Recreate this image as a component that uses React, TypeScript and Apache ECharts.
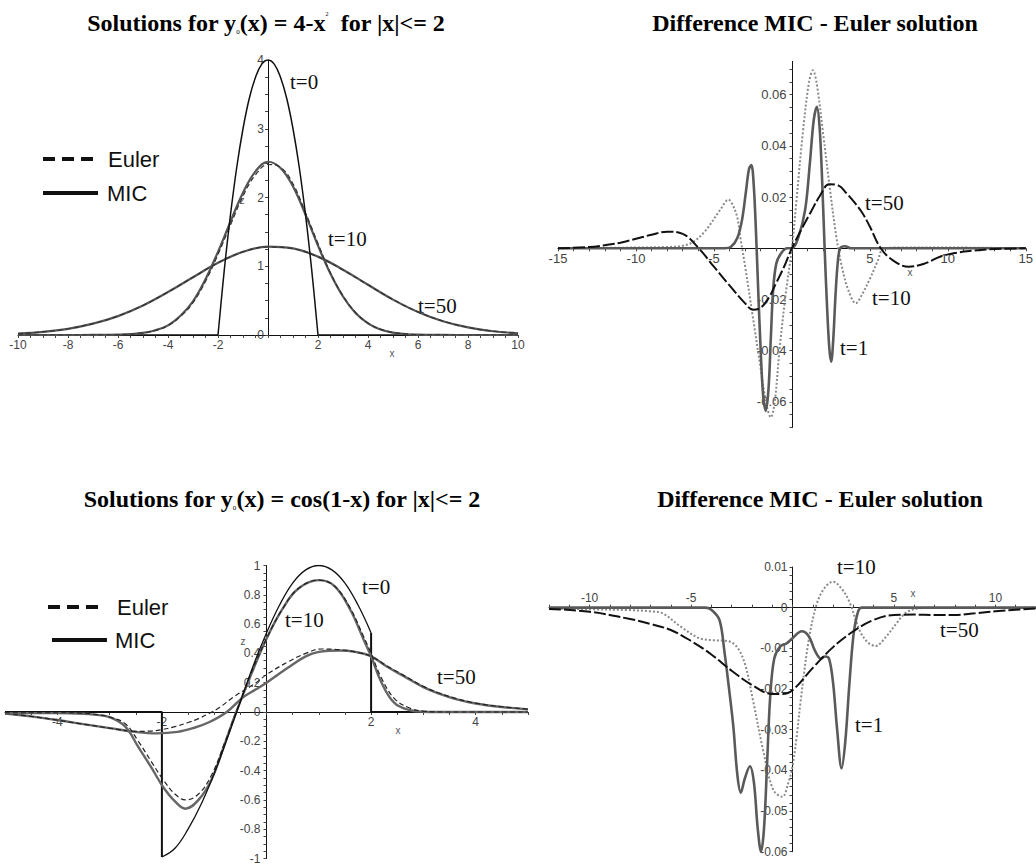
import React, { useEffect, useRef } from "react";
import * as echarts from "echarts";

// ---------- Panel 1: y0(x) = 4 - x^2 ----------
const p1XLabels = [-10, -8, -6, -4, -2, 2, 4, 6, 8, 10];
const p1YLabels = [0, 1, 2, 3, 4];
const p1T0Curve = [[-2, 0], [-1.75, 0.94], [-1.5, 1.75], [-1.25, 2.44], [-1, 3], [-0.75, 3.44], [-0.5, 3.75], [-0.25, 3.94], [0, 4], [0.25, 3.94], [0.5, 3.75], [0.75, 3.44], [1, 3], [1.25, 2.44], [1.5, 1.75], [1.75, 0.94], [2, 0]];
const p1T0Left = [[-10, 0], [-2, 0]];
const p1T0Right = [[2, 0], [10, 0]];
const p1MicT10 = [[-10, 0], [-8, 0], [-7, 0.001], [-6, 0.005], [-5.5, 0.012], [-5, 0.03], [-4.5, 0.07], [-4, 0.14], [-3.5, 0.28], [-3, 0.49], [-2.5, 0.81], [-2, 1.21], [-1.5, 1.65], [-1, 2.07], [-0.5, 2.38], [0, 2.52], [0.5, 2.43], [1, 2.16], [1.5, 1.75], [2, 1.3], [2.5, 0.89], [3, 0.56], [3.5, 0.32], [4, 0.17], [4.5, 0.08], [5, 0.035], [5.5, 0.014], [6, 0.005], [7, 0.001], [8, 0], [10, 0]];
const p1EulerT10 = [[-10, 0], [-8, 0], [-7, 0.001], [-6, 0.005], [-5, 0.03], [-4.5, 0.068], [-4, 0.135], [-3.5, 0.27], [-3, 0.47], [-2.5, 0.78], [-2, 1.17], [-1.5, 1.6], [-1, 2.02], [-0.5, 2.33], [0, 2.48], [0.5, 2.44], [1, 2.2], [1.5, 1.78], [2, 1.33], [2.5, 0.9], [3, 0.57], [3.5, 0.33], [4, 0.175], [4.5, 0.085], [5, 0.037], [6, 0.006], [7, 0.001], [8, 0], [10, 0]];
const p1MicT50 = [[-10, 0.02], [-9, 0.045], [-8, 0.09], [-7, 0.165], [-6, 0.275], [-5, 0.43], [-4, 0.625], [-3, 0.84], [-2, 1.05], [-1, 1.21], [0, 1.285], [1, 1.26], [2, 1.14], [3, 0.95], [4, 0.73], [5, 0.515], [6, 0.335], [7, 0.2], [8, 0.11], [9, 0.055], [10, 0.025]];
const p1EulerT50 = [[-10, 0.021], [-9, 0.046], [-8, 0.091], [-7, 0.166], [-6, 0.276], [-5, 0.43], [-4, 0.625], [-3, 0.84], [-2, 1.05], [-1, 1.21], [0, 1.28], [1, 1.255], [2, 1.135], [3, 0.945], [4, 0.73], [5, 0.517], [6, 0.337], [7, 0.202], [8, 0.112], [9, 0.056], [10, 0.026]];

// ---------- Panel 2: difference MIC - Euler (4 - x^2) ----------
const p2XLabels = [-15, -10, -5, 5, 10, 15];
const p2YLabels = [-0.06, -0.04, -0.02, 0.02, 0.04, 0.06];
const p2T1 = [[-15, 0], [-4.3, 0], [-3.9, 0.0006], [-3.5, 0.004], [-3.2, 0.011], [-2.95, 0.022], [-2.75, 0.031], [-2.6, 0.0325], [-2.45, 0.025], [-2.3, 0.006], [-2.15, -0.018], [-2.0, -0.04], [-1.85, -0.057], [-1.68, -0.0635], [-1.5, -0.055], [-1.35, -0.035], [-1.2, -0.016], [-1.0, -0.006], [-0.7, -0.002], [-0.3, 0], [0, 0], [0.4, 0.004], [0.85, 0.015], [1.15, 0.033], [1.4, 0.05], [1.6, 0.0553], [1.78, 0.047], [1.95, 0.025], [2.1, 0.0], [2.25, -0.022], [2.4, -0.039], [2.52, -0.0443], [2.65, -0.036], [2.8, -0.018], [2.95, -0.005], [3.1, 0], [3.4, 0.0008], [3.8, 0], [15, 0]];
const p2T10 = [[-15, 0], [-10, 0.0003], [-8, 0.0005], [-7, 0.001], [-6.3, 0.0026], [-5.5, 0.0072], [-4.6, 0.015], [-4.07, 0.019], [-3.8, 0.017], [-3.5, 0.012], [-3.3, 0.004], [-3.0, -0.007], [-2.5, -0.027], [-2.0, -0.047], [-1.6, -0.062], [-1.35, -0.066], [-1.1, -0.06], [-0.8, -0.04], [-0.4, -0.018], [0, 0], [0.3, 0.019], [0.7, 0.045], [1.1, 0.065], [1.35, 0.0695], [1.6, 0.064], [2.0, 0.045], [2.4, 0.025], [2.85, 0.0045], [3.2, -0.007], [3.6, -0.016], [4.1, -0.0215], [4.5, -0.018], [5.0, -0.012], [5.5, -0.005], [5.9, 0], [7, 0.0003], [10, 0.0003], [15, 0]];
const p2T50 = [[-15, 0], [-13, 0.0005], [-12, 0.0012], [-11, 0.0022], [-10, 0.0037], [-9, 0.0053], [-8, 0.0065], [-7, 0.0056], [-6, 0.0002], [-5, -0.0072], [-4, -0.0145], [-3, -0.0215], [-2.5, -0.024], [-2, -0.0232], [-1.5, -0.0195], [-1, -0.0135], [-0.5, -0.0072], [0, 0], [0.7, 0.0084], [1.2, 0.014], [1.8, 0.0205], [2.4, 0.025], [3, 0.0245], [3.5, 0.0215], [4, 0.018], [4.5, 0.014], [5, 0.0085], [5.7, 0], [6.5, -0.0048], [7.5, -0.0072], [8.5, -0.006], [9.5, -0.0033], [10.5, -0.0018], [11.5, -0.001], [13, -0.0003], [15, 0]];

// ---------- Panel 3: y0(x) = cos(1 - x) ----------
const p3XLabels = [-4, -2, 2, 4];
const p3YLabels = [-1, -0.8, -0.6, -0.4, -0.2, 0, 0.2, 0.4, 0.6, 0.8, 1];
const p3T0Curve = [[-2, -0.99], [-1.75, -0.93], [-1.5, -0.8], [-1.25, -0.63], [-1, -0.42], [-0.75, -0.18], [-0.5, 0.07], [-0.25, 0.32], [0, 0.54], [0.25, 0.73], [0.5, 0.88], [0.75, 0.97], [1, 1], [1.25, 0.97], [1.5, 0.88], [1.75, 0.73], [2, 0.54]];
const p3T0Left = [[-5, 0], [-2, 0], [-2, -0.99]];
const p3T0Right = [[2, 0.54], [2, 0], [5, 0]];
const p3MicT10 = [[-5, -0.008], [-4, -0.008], [-3.5, -0.012], [-3.3, -0.018], [-3.0, -0.035], [-2.7, -0.1], [-2.45, -0.24], [-2.2, -0.38], [-1.98, -0.51], [-1.75, -0.61], [-1.55, -0.66], [-1.3, -0.6], [-1.05, -0.46], [-0.8, -0.22], [-0.6, -0.02], [-0.3, 0.25], [0, 0.5], [0.3, 0.7], [0.6, 0.84], [1.0, 0.9], [1.3, 0.86], [1.6, 0.7], [1.85, 0.5], [2.0, 0.38], [2.2, 0.2], [2.45, 0.06], [2.75, 0.012], [3.0, 0.002], [3.5, 0], [5, 0]];
const p3EulerT10 = [[-5, -0.005], [-4, -0.005], [-3.5, -0.008], [-3.2, -0.02], [-3, -0.035], [-2.7, -0.08], [-2.45, -0.2], [-2.2, -0.34], [-1.98, -0.46], [-1.75, -0.56], [-1.55, -0.6], [-1.3, -0.56], [-1.05, -0.43], [-0.8, -0.21], [-0.6, -0.02], [-0.3, 0.26], [0, 0.5], [0.3, 0.7], [0.6, 0.84], [1.0, 0.9], [1.3, 0.86], [1.6, 0.71], [1.85, 0.52], [2.0, 0.4], [2.2, 0.23], [2.45, 0.09], [2.75, 0.025], [3.0, 0.006], [3.5, 0], [5, 0]];
const p3MicT50 = [[-5, -0.01], [-4.5, -0.03], [-4, -0.055], [-3.5, -0.083], [-3, -0.11], [-2.5, -0.136], [-2.1, -0.146], [-1.7, -0.136], [-1.4, -0.11], [-1.1, -0.07], [-0.76, 0], [-0.45, 0.1], [-0.2, 0.155], [0, 0.2], [0.4, 0.3], [0.75, 0.38], [1.0, 0.41], [1.4, 0.42], [1.7, 0.41], [2, 0.38], [2.3, 0.31], [2.65, 0.24], [3, 0.17], [3.3, 0.125], [3.6, 0.09], [4, 0.058], [4.5, 0.034], [5, 0.018]];
const p3EulerT50 = [[-5, -0.01], [-4.5, -0.03], [-4, -0.055], [-3.5, -0.083], [-3, -0.11], [-2.5, -0.132], [-2.2, -0.13], [-2.0, -0.12], [-1.75, -0.1], [-1.5, -0.072], [-1.3, -0.045], [-1.1, -0.01], [-0.9, 0.03], [-0.64, 0.1], [-0.2, 0.2], [0, 0.255], [0.4, 0.34], [0.75, 0.4], [1.05, 0.43], [1.4, 0.425], [1.7, 0.41], [2, 0.38], [2.3, 0.315], [2.65, 0.245], [3, 0.175], [3.3, 0.13], [3.6, 0.095], [4, 0.06], [4.5, 0.036], [5, 0.02]];

// ---------- Panel 4: difference MIC - Euler (cos) ----------
const p4XLabels = [-10, -5, 5, 10];
const p4YLabels = [-0.06, -0.05, -0.04, -0.03, -0.02, -0.01, 0, 0.01];
const p4T1 = [[-12, 0], [-4.3, 0], [-4.0, -0.0005], [-3.6, -0.003], [-3.35, -0.011], [-3.15, -0.019], [-2.92, -0.029], [-2.72, -0.041], [-2.55, -0.0455], [-2.35, -0.042], [-2.1, -0.039], [-1.9, -0.043], [-1.72, -0.054], [-1.55, -0.06], [-1.4, -0.054], [-1.25, -0.038], [-1.1, -0.022], [-0.9, -0.0125], [-0.6, -0.0095], [-0.3, -0.0088], [0, -0.0075], [0.45, -0.0058], [0.8, -0.007], [1.1, -0.0105], [1.4, -0.0125], [1.6, -0.012], [1.8, -0.0125], [2.0, -0.0185], [2.2, -0.03], [2.42, -0.0395], [2.6, -0.033], [2.8, -0.019], [3.0, -0.007], [3.2, -0.0015], [3.4, 0], [12, 0]];
const p4T10 = [[-12, -0.0002], [-10, -0.0004], [-8, -0.0006], [-7, -0.0009], [-6.4, -0.0014], [-5.5, -0.0047], [-4.6, -0.0075], [-3.9, -0.008], [-3.2, -0.0082], [-2.75, -0.0096], [-2.35, -0.0137], [-1.95, -0.0227], [-1.45, -0.035], [-0.95, -0.0448], [-0.5, -0.0465], [-0.2, -0.043], [0, -0.039], [0.2, -0.032], [0.4, -0.023], [0.8, -0.008], [1.2, 0.001], [1.6, 0.005], [2.0, 0.0064], [2.4, 0.0048], [2.8, 0.0015], [3.3, -0.0055], [3.7, -0.0085], [4.1, -0.0094], [4.6, -0.0072], [5.1, -0.004], [5.6, -0.0012], [6.2, -0.0002], [7, 0], [12, 0]];
const p4T50 = [[-12, -0.0003], [-10, -0.001], [-8, -0.0028], [-7, -0.004], [-6, -0.0055], [-5, -0.0082], [-4, -0.0115], [-3, -0.0155], [-2, -0.019], [-1, -0.0212], [-0.5, -0.0212], [0, -0.0203], [1, -0.0148], [2, -0.0097], [3, -0.0058], [4, -0.003], [5, -0.0018], [6, -0.0017], [7, -0.0018], [8, -0.0018], [9, -0.0014], [10, -0.0009], [11, -0.0005], [12, -0.0002]];

const SERIF = '"Liberation Serif", "Times New Roman", serif';
const SANS = '"Liberation Sans", Arial, sans-serif';

const grids = [
  { left: 18, top: 60, width: 500, height: 275 },
  { left: 558, top: 61.4, width: 469, height: 366.1 },
  { left: 5, top: 565.5, width: 523, height: 293 },
  { left: 549, top: 567, width: 487, height: 284.7 },
];

function steps(a: number, b: number, s: number) {
  const out: number[] = [];
  const n = Math.round((b - a) / s);
  for (let i = 0; i <= n; i++) out.push(+(a + i * s).toFixed(6));
  return out;
}

// axes drawn through the origin: offset from the grid edge to the zero position
function xAxis(gi: number, min: number, max: number, ymin: number, ymax: number, labels: number[], minor: number, fontSize: number, top = false) {
  const h = grids[gi].height;
  const fromBottom = ((0 - ymin) / (ymax - ymin)) * h;
  const offset = top ? -(h - fromBottom) : -fromBottom;
  return {
    type: "value", gridIndex: gi, min, max, position: top ? "top" : "bottom", offset,
    axisLine: { onZero: false, lineStyle: { color: "#111", width: 1 } },
    axisTick: { show: true, length: 3, customValues: steps(min, max, minor), lineStyle: { color: "#444" } },
    axisLabel: { customValues: labels, margin: 4, fontSize, color: "#444", fontFamily: SANS },
    splitLine: { show: false },
  };
}
function yAxis(gi: number, min: number, max: number, xmin: number, xmax: number, labels: number[], minor: number, fontSize: number, margin: number) {
  const w = grids[gi].width;
  const offset = -((0 - xmin) / (xmax - xmin)) * w;
  return {
    type: "value", gridIndex: gi, min, max, position: "left", offset,
    axisLine: { onZero: false, lineStyle: { color: "#111", width: 1 } },
    axisTick: { show: true, length: 3, customValues: steps(min, max, minor), lineStyle: { color: "#444" } },
    axisLabel: { customValues: labels, margin, fontSize, color: "#444", fontFamily: SANS },
    splitLine: { show: false },
  };
}
function line(data: number[][], gi: number, color: string, width: number, type: any = "solid", smooth: any = 0.4, z = 2) {
  return {
    type: "line", data, xAxisIndex: gi, yAxisIndex: gi, showSymbol: false, symbol: "none",
    smooth, silent: true, z, lineStyle: { color, width, type }, animation: false,
  };
}
function txt(x: number, y: number, text: string, font: string, fill = "#111", align = "left") {
  return { type: "text", x, y, silent: true, style: { text, font, fill, align, textAlign: align, verticalAlign: "middle", textVerticalAlign: "middle" } };
}
function seg(x1: number, y1: number, x2: number, y2: number, dash: any = null) {
  return { type: "line", silent: true, shape: { x1, y1, x2, y2 }, style: { stroke: "#111", lineWidth: 4, lineDash: dash } };
}
function title(x: number, y: number, text: string) {
  return {
    type: "text", x, y, silent: true,
    style: {
      text, font: `bold 24px ${SERIF}`, fill: "#000", align: "center", textAlign: "center",
      verticalAlign: "middle", textVerticalAlign: "middle",
      rich: {
        s: { fontSize: 7, fontFamily: SERIF, verticalAlign: "bottom", fill: "#000" },
        p: { fontSize: 6, fontFamily: SERIF, verticalAlign: "top", fill: "#000" },
      },
    },
  };
}

export default function App() {
  const ref = useRef<HTMLDivElement>(null);
  useEffect(() => {
    if (!ref.current) return;
    const chart = echarts.init(ref.current, null, { renderer: "svg" });
    const tFont = `21px ${SERIF}`;
    const lFont = `22px ${SANS}`;
    const sFont = `10px ${SANS}`;
    chart.setOption({
      animation: false,
      backgroundColor: "#fff",
      grid: grids,
      xAxis: [
        xAxis(0, -10, 10, 0, 4, p1XLabels, 0.5, 12),
        xAxis(1, -15, 15, -0.07, 0.073, p2XLabels, 1, 13),
        xAxis(2, -5, 5, -1, 1, p3XLabels, 0.5, 12),
        xAxis(3, -12, 12, -0.06, 0.01, p4XLabels, 1, 12, true),
      ],
      yAxis: [
        yAxis(0, 0, 4, -10, 10, p1YLabels, 0.25, 12, 4),
        yAxis(1, -0.07, 0.073, -15, 15, p2YLabels, 0.005, 13, 6),
        yAxis(2, -1, 1, -5, 5, p3YLabels, 0.05, 12, 6),
        yAxis(3, -0.06, 0.01, -12, 12, p4YLabels, 0.002, 12, 5),
      ],
      series: [
        line(p1T0Left, 0, "#111", 1.5, "solid", false),
        line(p1T0Right, 0, "#111", 1.5, "solid", false),
        line(p1T0Curve, 0, "#111", 1.5, "solid", 0.4, 4),
        line(p1MicT50, 0, "#555", 2.2),
        line(p1EulerT50, 0, "#333", 1.2, [5, 3]),
        line(p1MicT10, 0, "#555", 2.2),
        line(p1EulerT10, 0, "#333", 1.2, [5, 3]),

        line(p2T10, 1, "#8a8a8a", 2, "dotted", 0.35),
        line(p2T1, 1, "#5a5a5a", 2.6, "solid", 0.35, 3),
        line(p2T50, 1, "#111", 2, [12, 3], 0.4, 4),

        line(p3T0Left, 2, "#111", 2, "solid", false),
        line(p3T0Right, 2, "#111", 2, "solid", false),
        line(p3T0Curve, 2, "#111", 1.3, "solid", 0.4, 4),
        line(p3MicT50, 2, "#666", 2.4),
        line(p3EulerT50, 2, "#222", 1.2, [5, 3]),
        line(p3MicT10, 2, "#666", 2.4),
        line(p3EulerT10, 2, "#222", 1.2, [5, 3]),

        line(p4T10, 3, "#8a8a8a", 2, "dotted", 0.35),
        line(p4T1, 3, "#5a5a5a", 2.6, "solid", 0.35, 3),
        line(p4T50, 3, "#111", 2, [12, 3], 0.4, 4),
      ],
      graphic: [
        title(266, 23, "Solutions for y{s|0}(x) = 4-x{p|2}  for |x|<= 2"),
        title(815, 23, "Difference MIC - Euler solution"),
        title(282, 499, "Solutions for y{s|0}(x) = cos(1-x) for |x|<= 2"),
        title(820, 499, "Difference MIC - Euler solution"),

        seg(43, 159, 93, 159, [12, 7]),
        txt(108, 159, "Euler", lFont),
        seg(43, 193, 98, 193),
        txt(107, 193, "MIC", lFont),
        seg(48, 607, 100, 607, [12, 7]),
        txt(117, 607, "Euler", lFont),
        seg(52, 640, 107, 640),
        txt(115, 640, "MIC", lFont),

        txt(290, 82, "t=0", tFont),
        txt(328, 239, "t=10", tFont),
        txt(418, 306, "t=50", tFont),
        txt(865, 203, "t=50", tFont),
        txt(872, 298, "t=10", tFont),
        txt(840, 348, "t=1", tFont),
        txt(362, 587, "t=0", tFont),
        txt(285, 620, "t=10", tFont),
        txt(437, 677, "t=50", tFont),
        txt(837, 567, "t=10", tFont),
        txt(940, 630, "t=50", tFont),
        txt(855, 725, "t=1", tFont),

        txt(392, 353, "x", sFont, "#555", "center"),
        txt(910, 272, "x", sFont, "#555", "center"),
        txt(398, 730, "x", sFont, "#555", "center"),
        txt(913, 593, "x", sFont, "#555", "center"),
        txt(242, 200, "z", sFont, "#555", "center"),
        txt(243, 641, "z", sFont, "#555", "center"),
      ],
    });
    return () => chart.dispose();
  }, []);
  return <div ref={ref} style={{ position: "absolute", left: 0, top: 0, width: 1036, height: 867 }} />;
}
